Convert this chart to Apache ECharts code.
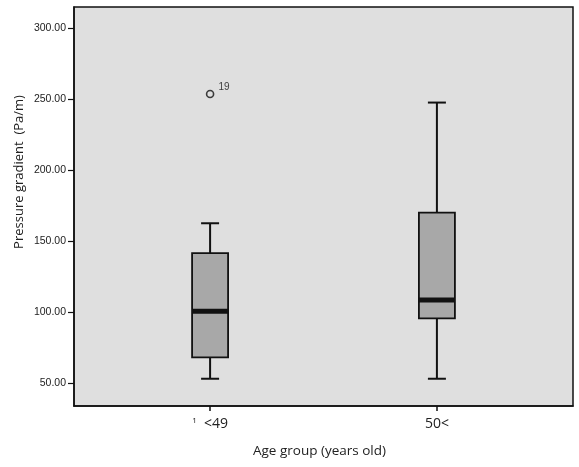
<!DOCTYPE html>
<html>
<head>
<meta charset="utf-8">
<script src="https://cdn.jsdelivr.net/npm/echarts@6/dist/echarts.min.js"></script>
<style>html,body{margin:0;padding:0;background:#fff}#c{width:579px;height:467px}</style>
</head>
<body>
<div id="c"></div>
<script>
// Data
const categories = ['<49', '50<'];
const catPositions = [1, 2];
const whiskerLow = [53, 53];
const q1 = [68, 95.5];
const median = [100.5, 108.5];
const q3 = [141.5, 170];
const whiskerHigh = [162.5, 247.5];
const outliers = [[1, 253.5, '19']];
const yTicks = [50, 100, 150, 200, 250, 300];

const boxData = catPositions.map((p, i) => [p, whiskerLow[i], q1[i], median[i], q3[i], whiskerHigh[i]]);

const chart = echarts.init(document.getElementById('c'), null, {renderer: 'canvas'});
chart.setOption({
  backgroundColor: '#fff',
  animation: false,
  grid: {left: 74, right: 6, top: 7, bottom: 61, show: true, backgroundColor: '#dfdfdf', borderColor: '#111', borderWidth: 1.5},
  xAxis: {
    type: 'value', min: 0.4, max: 2.6,
    splitLine: {show: false},
    axisLine: {show: true, lineStyle: {color: '#111', width: 1.5}},
    axisTick: {show: true, customValues: catPositions, length: 5, lineStyle: {color: '#111', width: 1.5}},
    axisLabel: {
      customValues: catPositions, margin: 11,
      fontFamily: 'Open Sans', fontSize: 14, color: '#222',
      formatter: v => { const i = catPositions.indexOf(v); return i === 0 ? '{s|1}  ' + categories[i] : categories[i]; },
      rich: {s: {fontSize: 8, verticalAlign: 'top', padding: [0,0,6,0], fontFamily: 'Open Sans', color: '#222'}}
    }
  },
  yAxis: {
    type: 'value', min: 33.8, max: 314.8,
    splitLine: {show: false},
    axisLine: {show: true, lineStyle: {color: '#111', width: 1.5}},
    axisTick: {show: true, customValues: yTicks, length: 6, lineStyle: {color: '#111', width: 1.2}},
    axisLabel: {customValues: yTicks, margin: 8, fontFamily: 'Liberation Sans', fontSize: 10.5, color: '#222', formatter: v => v.toFixed(2)}
  },
  graphic: [
    {type: 'text', left: 323 - 70, top: 444, style: {text: 'Age group (years old)', fontFamily: 'Open Sans', fontSize: 13.5, fill: '#222', width: 140, align: 'center'}},
    {type: 'text', x: 13, y: 172, rotation: Math.PI / 2, style: {text: 'Pressure gradient  (Pa/m)', fontFamily: 'Open Sans', fontSize: 13, fill: '#222', align: 'center', verticalAlign: 'top'}}
  ],
  series: [
    {
      type: 'custom',
      data: boxData,
      encode: {x: 0, y: [1, 2, 3, 4, 5]},
      renderItem: function (params, api) {
        const x = api.value(0);
        const lo = api.coord([x, api.value(1)]);
        const b = api.coord([x, api.value(2)]);
        const m = api.coord([x, api.value(3)]);
        const t = api.coord([x, api.value(4)]);
        const hi = api.coord([x, api.value(5)]);
        const bw = 36, cw = 18, cx = lo[0];
        const ls = {stroke: '#111', lineWidth: 2};
        return {
          type: 'group',
          children: [
            {type: 'line', shape: {x1: cx, y1: hi[1], x2: cx, y2: t[1]}, style: ls},
            {type: 'line', shape: {x1: cx, y1: b[1], x2: cx, y2: lo[1]}, style: ls},
            {type: 'line', shape: {x1: cx - cw / 2, y1: hi[1], x2: cx + cw / 2, y2: hi[1]}, style: ls},
            {type: 'line', shape: {x1: cx - cw / 2, y1: lo[1], x2: cx + cw / 2, y2: lo[1]}, style: ls},
            {type: 'rect', shape: {x: cx - bw / 2, y: t[1], width: bw, height: b[1] - t[1]}, style: {fill: '#a8a8a8', stroke: '#111', lineWidth: 1.8}},
            {type: 'rect', shape: {x: cx - bw / 2, y: m[1] - 2.5, width: bw, height: 5}, style: {fill: '#111'}}
          ]
        };
      }
    },
    {
      type: 'scatter',
      data: outliers.map(o => ({value: [o[0], o[1]], name: o[2]})),
      symbol: 'circle', symbolSize: 7,
      itemStyle: {color: 'rgba(0,0,0,0)', borderColor: '#111', borderWidth: 1.6},
      label: {show: true, formatter: p => p.name, position: 'right', offset: [-1, -7], fontFamily: 'Liberation Sans', fontSize: 10, color: '#111'}
    }
  ]
});
</script>
</body>
</html>
